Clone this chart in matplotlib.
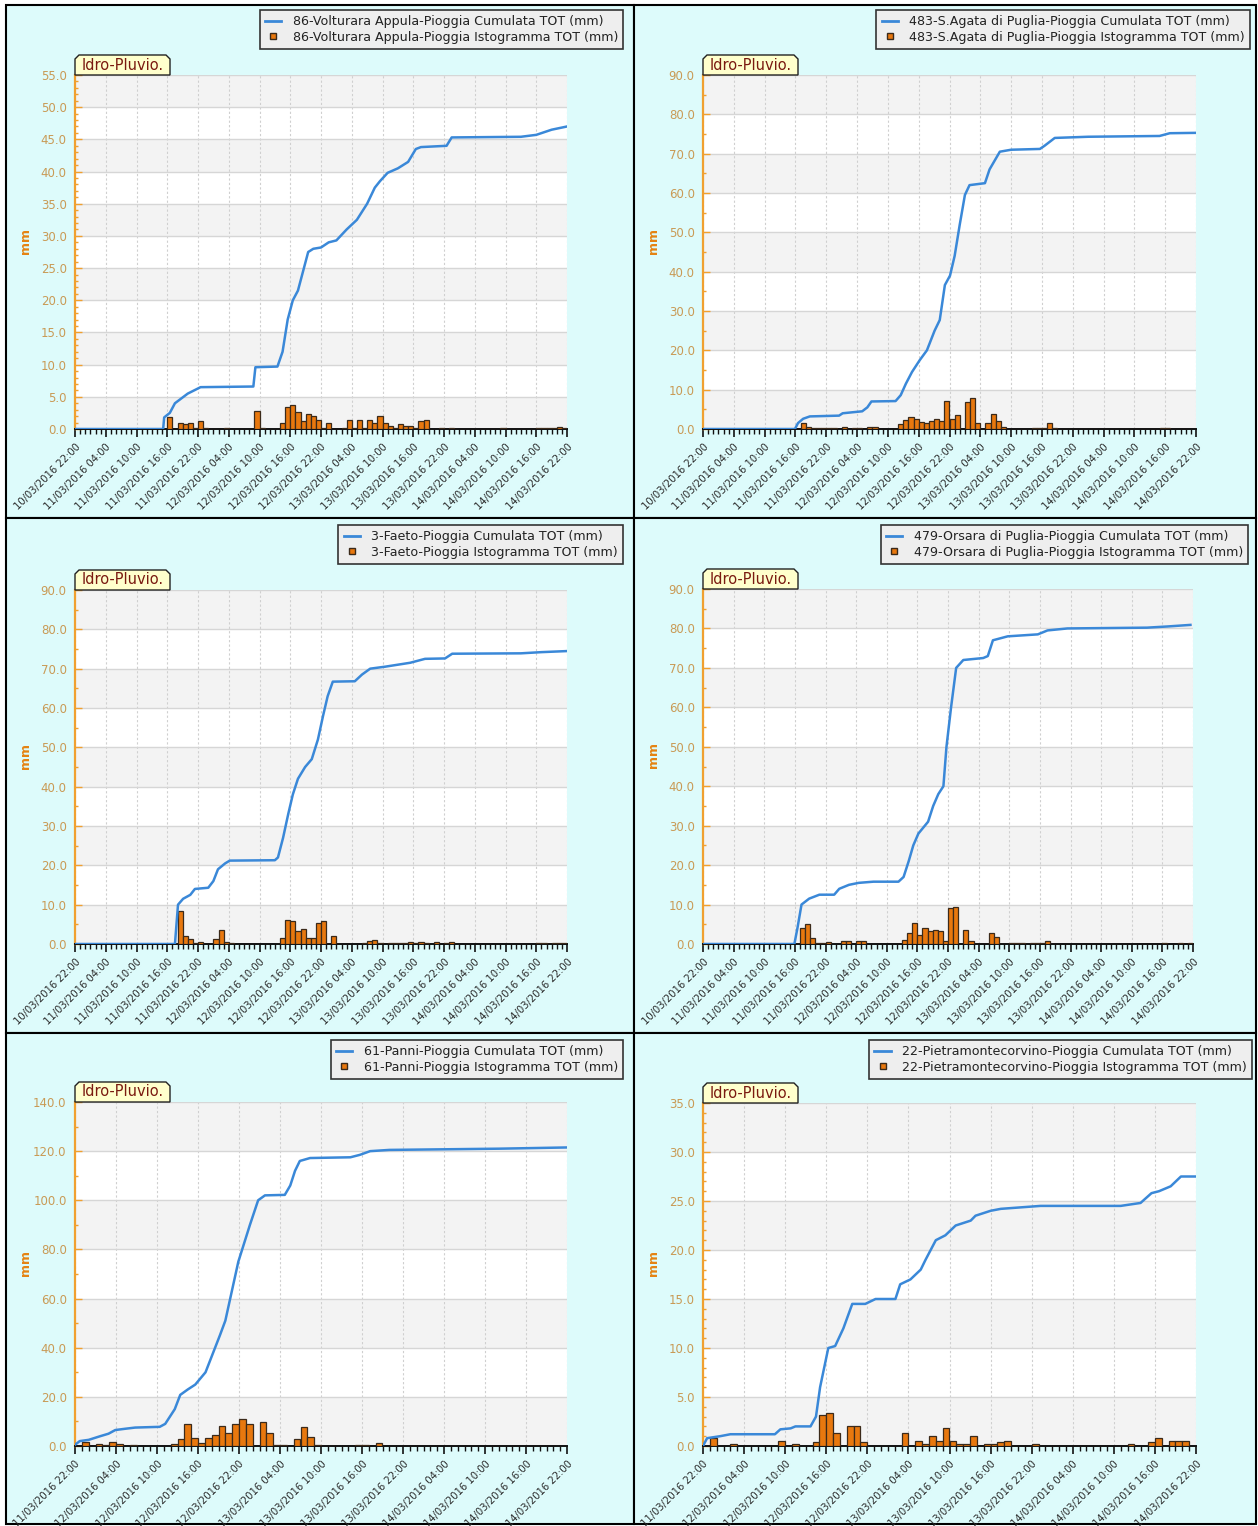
import matplotlib
matplotlib.use("Agg")
import matplotlib.pyplot as plt
from matplotlib.patches import Rectangle, Polygon
from matplotlib.lines import Line2D
from matplotlib.ticker import MultipleLocator, FormatStrFormatter

W, H = 1258, 1526

# x tick labels (every 6 hours)
ticks_4d = ["10/03/2016 22:00", "11/03/2016 04:00", "11/03/2016 10:00", "11/03/2016 16:00",
            "11/03/2016 22:00", "12/03/2016 04:00", "12/03/2016 10:00", "12/03/2016 16:00",
            "12/03/2016 22:00", "13/03/2016 04:00", "13/03/2016 10:00", "13/03/2016 16:00",
            "13/03/2016 22:00", "14/03/2016 04:00", "14/03/2016 10:00", "14/03/2016 16:00",
            "14/03/2016 22:00"]
ticks_3d = ["11/03/2016 22:00", "12/03/2016 04:00", "12/03/2016 10:00", "12/03/2016 16:00",
            "12/03/2016 22:00", "13/03/2016 04:00", "13/03/2016 10:00", "13/03/2016 16:00",
            "13/03/2016 22:00", "14/03/2016 04:00", "14/03/2016 10:00", "14/03/2016 16:00",
            "14/03/2016 22:00"]

# 86-Volturara Appula (hours from 10/03 22:00)
p1_name = "86-Volturara Appula"
p1_bar_h = [18, 20, 21, 22, 23, 24, 25, 29, 35, 36, 40, 41, 42, 43, 44, 45, 46, 47, 48, 49,
            52, 53, 54, 55, 56, 57, 58, 59, 60, 61, 62, 63, 64, 65, 66, 67, 68, 71, 73, 83,
            90, 91, 92, 93, 94, 95]
p1_bar_v = [1.8, 1.0, 0.8, 1.0, 0.1, 1.2, 0.1, 0.1, 2.8, 0.1, 1.0, 3.4, 3.7, 2.6, 1.2, 2.4, 2.0, 1.4, 0.1, 1.0,
            0.2, 1.4, 0.1, 1.4, 0.1, 1.4, 1.0, 2.0, 0.9, 0.5, 0.1, 0.8, 0.4, 0.5, 0.1, 1.2, 1.4, 0.1, 0.2, 0.1,
            0.1, 0.1, 0.1, 0.1, 0.3, 0.1]
p1_cum_h = [0, 17.2, 17.4, 18.5, 19.5, 20.5, 22, 24.5, 34.8, 35.2, 39.5, 40.5, 41.5, 42.5, 43.5, 44.5,
            45.5, 46.5, 48, 49.5, 51, 53, 55, 57, 58.5, 59.5, 61, 63, 65, 66.5, 67.5, 72.5, 73.5,
            87, 90, 93, 96]
p1_cum_v = [0, 0, 1.8, 2.5, 4, 4.6, 5.5, 6.5, 6.6, 9.6, 9.7, 12, 17, 20, 21.5, 24.5,
            27.5, 28, 28.2, 29, 29.3, 31, 32.5, 35, 37.5, 38.5, 39.8, 40.5, 41.5, 43.5, 43.8, 44, 45.3,
            45.4, 45.7, 46.5, 47]

# 483-S.Agata di Puglia
p2_name = "483-S.Agata di Puglia"
p2_bar_h = [19, 20, 21, 22, 23, 24, 25, 27, 29, 30, 32, 33, 37, 38, 39, 40, 41, 42, 43, 44,
            45, 46, 47, 48, 49, 50, 51, 52, 53, 55, 56, 57, 58, 64, 65, 66, 67, 68, 89, 90]
p2_bar_v = [1.4, 0.6, 0.2, 0.2, 0.2, 0.2, 0.2, 0.4, 0.2, 0.2, 0.6, 0.6, 0.1, 1.2, 2.2, 3.0, 2.6, 1.9, 1.5, 2.0,
            2.6, 2.0, 7.0, 2.6, 3.5, 0.1, 6.8, 7.9, 1.5, 1.5, 3.8, 2.1, 0.4, 0.2, 0.2, 0.2, 1.5, 0.2, 0.2, 0.2]
p2_cum_h = [0, 17.9, 18.5, 19.5, 20.8, 26.5, 27.2, 31, 32, 32.8, 37.5, 38.5, 39.5, 40.7, 42.2, 43.6,
            45.1, 46.1, 47.1, 48.1, 49.0, 50.0, 51.0, 51.9, 54.9, 55.8, 57.8, 60, 65.6, 66.5, 68.5,
            75, 88.9, 90.9, 96.5]
p2_cum_v = [0, 0, 1.5, 2.6, 3.2, 3.4, 4.0, 4.5, 5.5, 7.0, 7.1, 8.6, 11.5, 14.5, 17.5, 20,
            25, 27.7, 36.6, 39, 44, 52, 59.5, 62, 62.5, 66, 70.5, 71, 71.2, 72, 74,
            74.3, 74.5, 75.2, 75.3]

# 3-Faeto
p3_name = "3-Faeto"
p3_bar_h = [20, 21, 22, 23, 24, 25, 26, 27, 28, 29, 30, 39, 40, 41, 42, 43, 44, 45, 46, 47,
            48, 49, 50, 51, 56, 57, 58, 59, 60, 61, 62, 63, 64, 65, 66, 67, 68, 70, 72, 73,
            74, 90, 91, 92, 93, 94, 95]
p3_bar_v = [8.3, 2.1, 1.2, 0.2, 0.6, 0.1, 0.1, 1.2, 3.5, 0.6, 0.35, 0.1, 1.5, 6.2, 5.9, 3.2, 3.8, 1.4, 1.4, 5.3,
            5.8, 0.1, 2.1, 0.1, 0.35, 0.85, 1.1, 0.2, 0.1, 0.2, 0.3, 0.3, 0.2, 0.4, 0.3, 0.5, 0.2, 0.4, 0.2, 0.5,
            0.1, 0.2, 0.2, 0.1, 0.3, 0.3, 0.2]
p3_cum_h = [0, 19.5, 20.1, 21.1, 22.5, 23.4, 26, 27, 27.9, 29.3, 30.2, 39, 39.6, 40.6, 41.6, 42.5,
            43.5, 44.9, 46.2, 47.4, 48.4, 49.3, 50.3, 54.6, 56, 57.6, 60.5, 65.4, 68.3, 72.2, 73.6,
            87, 91, 96.5]
p3_cum_v = [0, 0, 10, 11.5, 12.5, 14, 14.3, 16, 19, 20.5, 21.2, 21.3, 22, 27, 33, 38,
            42, 45, 47, 52, 58, 63, 66.7, 66.8, 68.5, 70, 70.5, 71.5, 72.5, 72.6, 73.8,
            73.9, 74.2, 74.5]

# 479-Orsara di Puglia
p4_name = "479-Orsara di Puglia"
p4_bar_h = [18, 19, 20, 21, 22, 23, 24, 27, 28, 30, 31, 38, 39, 40, 41, 42, 43, 44, 45, 46,
            47, 48, 49, 50, 51, 52, 53, 54, 55, 56, 57, 58, 60, 61, 62, 64, 65, 66, 67, 68,
            90, 93, 95]
p4_bar_v = [0.1, 4.1, 5.1, 1.6, 0.25, 0.25, 0.5, 0.8, 0.8, 0.8, 0.8, 0.1, 0.9, 2.8, 5.4, 2.2, 4.1, 3.2, 3.6, 3.2,
            0.8, 9.2, 9.5, 0.1, 3.5, 0.8, 0.1, 0.1, 0.1, 2.9, 1.7, 0.1, 0.2, 0.2, 0.2, 0.2, 0.2, 0.2, 0.85, 0.1,
            0.2, 0.2, 0.2]
p4_cum_h = [0, 17.9, 18.5, 19.3, 20.8, 22.8, 25.7, 26.7, 28.6, 30.5, 33.4, 38.3, 39.3, 40.3, 41.2, 42.2,
            44.1, 45.1, 46.1, 47.1, 47.7, 48.6, 49.6, 51.0, 54.9, 55.8, 56.8, 59.7, 65.6, 67.5, 71.4,
            87, 91, 95.5]
p4_cum_v = [0, 0, 4, 10, 11.5, 12.5, 12.5, 14, 15, 15.5, 15.8, 15.8, 17, 21, 25, 28,
            31, 35, 38, 40, 50, 60, 70, 72, 72.5, 73, 77, 78, 78.5, 79.5, 80,
            80.2, 80.5, 80.9]

# 61-Panni (hours from 11/03 22:00)
p5_name = "61-Panni"
p5_bar_h = [1, 3, 4, 5, 6, 8, 14, 15, 16, 17, 18, 19, 20, 21, 22, 23, 24, 25, 27, 28,
            29, 30, 32, 33, 34, 35, 37, 41, 42, 44]
p5_bar_v = [1.8, 0.95, 0.4, 1.8, 0.95, 0.4, 0.95, 2.7, 8.8, 3.1, 1.4, 3.4, 4.3, 8.1, 5.2, 8.8, 11.1, 8.8, 9.8, 5.2,
            0.4, 0.3, 3.0, 7.7, 3.7, 0.3, 0.2, 0.4, 0.4, 1.2]
p5_cum_h = [0, 0.7, 2, 3.7, 4.9, 5.9, 7.3, 8.8, 12.4, 13.2, 14.6, 15.4, 16.5, 17.6, 19.1, 19.8,
            21.2, 22.0, 23.9, 25.6, 26.8, 27.8, 30.7, 31.5, 32.2, 32.9, 34.4, 40.3, 41.7, 43.2,
            46, 62, 72]
p5_cum_v = [0.5, 2, 2.5, 4, 5, 6.5, 7, 7.5, 7.8, 9, 15, 20.8, 23, 25, 30, 35,
            45, 51, 75, 90, 100, 102, 102.2, 106, 112, 116, 117.2, 117.5, 118.5, 120,
            120.5, 121, 121.5]

# 22-Pietramontecorvino
p6_name = "22-Pietramontecorvino"
p6_bar_h = [1, 4, 11, 13, 16, 17, 18, 19, 21, 22, 23, 29, 31, 32, 33, 34, 35, 36, 37, 38,
            39, 41, 42, 43, 44, 48, 62, 65, 66, 68, 69, 70]
p6_bar_v = [0.8, 0.2, 0.55, 0.2, 0.45, 3.2, 3.4, 1.3, 2.0, 2.0, 0.45, 1.3, 0.55, 0.2, 1.0, 0.55, 1.8, 0.55, 0.2, 0.2,
            1.0, 0.2, 0.2, 0.45, 0.55, 0.2, 0.2, 0.45, 0.8, 0.55, 0.55, 0.55]
p6_cum_h = [0, 0.6, 2.5, 4, 10.5, 11.3, 12.8, 13.5, 15.7, 16.5, 17.1, 18.3, 19.3, 20.5, 21.8, 23.7,
            25.2, 28.1, 28.8, 30.3, 31.8, 32.5, 34, 35.4, 36.9, 39.1, 39.8, 42, 43.5, 49.3,
            61, 63.9, 65.5, 66.6, 68.3, 69.8, 72.5]
p6_cum_v = [0, 0.8, 1.0, 1.2, 1.2, 1.7, 1.8, 2.0, 2.0, 3, 6, 10, 10.2, 12, 14.5, 14.5,
            15, 15, 16.5, 17, 18, 19, 21, 21.5, 22.5, 23, 23.5, 24, 24.2, 24.5,
            24.5, 24.8, 25.8, 26, 26.5, 27.5, 27.5]

PANEL_BG = "#ddfbfb"
BAND = "#f3f3f3"
ORANGE = "#f0a030"
BAR = "#e8780e"
BLUE = "#3a88d8"


def fx(x):
    return x / W


def fy(y):
    return 1 - y / H


def draw_panel(fig, box, rect, leg, name, bar_h, bar_v, cum_h, cum_v,
               ymax, ystep, yminor, labels):
    # panel frame (behind the axes)
    bx0, by0, bx1, by1 = box
    fig.patches.append(Rectangle((fx(bx0), fy(by1)), (bx1 - bx0) / W, (by1 - by0) / H,
                                 transform=fig.transFigure, facecolor=PANEL_BG,
                                 edgecolor="black", lw=1.5, zorder=-5))
    l, t, r, b = rect
    ax = fig.add_axes([fx(l), fy(b), (r - l) / W, (b - t) / H])
    ax.set_facecolor("white")
    span = 6 * (len(labels) - 1)
    ax.set_xlim(0, span)
    ax.set_ylim(0, ymax)

    nb = int(round(ymax / ystep))
    for i in range(0, nb, 2):
        ax.axhspan(i * ystep, (i + 1) * ystep, color=BAND, lw=0, zorder=0)

    ax.bar(bar_h, bar_v, width=1, align="edge", color=BAR, edgecolor="#3b2a1a",
           lw=0.9, zorder=3)
    ax.plot(cum_h, cum_v, color=BLUE, lw=1.8, zorder=4)

    ax.set_axisbelow(True)
    ax.yaxis.grid(True, color="#d6d6d6", lw=1.0)
    ax.xaxis.grid(True, color="#cfcfcf", lw=0.8, ls=(0, (2, 2)))

    for s in ("top", "right"):
        ax.spines[s].set_visible(False)
    ax.spines["left"].set_color(ORANGE)
    ax.spines["left"].set_linewidth(1.6)
    ax.spines["bottom"].set_color("#111111")
    ax.spines["bottom"].set_linewidth(1.4)

    ax.set_xticks(range(0, span + 1, 6))
    ax.set_xticklabels(labels, rotation=45, ha="right", va="top",
                       rotation_mode="anchor", fontsize=7.2, color="#2a2a2a")
    ax.xaxis.set_minor_locator(MultipleLocator(1))
    ax.tick_params(axis="x", which="major", direction="out", length=6, width=1.2,
                   color="#111111", pad=3)
    ax.tick_params(axis="x", which="minor", direction="out", length=3.5, width=1.0,
                   color="#111111")

    ax.yaxis.set_major_locator(MultipleLocator(ystep))
    ax.yaxis.set_minor_locator(MultipleLocator(yminor))
    ax.yaxis.set_major_formatter(FormatStrFormatter("%.1f"))
    ax.tick_params(axis="y", which="major", direction="in", length=5, width=1,
                   color=ORANGE, labelcolor="#c99a55", labelsize=8.5, pad=6)
    ax.tick_params(axis="y", which="minor", direction="in", length=2.5, width=1,
                   color=ORANGE)

    fig.text(fx(l - 49), fy((t + b) / 2 - 11), "mm", rotation=90, color="#e58312",
             fontsize=9, fontweight="bold", ha="center", va="center")

    # "Idro-Pluvio." tag
    c = 4
    pts = [(l, t), (l, t - 20 + c), (l + c, t - 20), (l + 95 - c, t - 20),
           (l + 95, t - 20 + c), (l + 95, t)]
    fig.patches.append(Polygon([(fx(x), fy(y)) for x, y in pts], closed=True,
                               transform=fig.transFigure, facecolor="#ffffcc",
                               edgecolor="#222222", lw=1.0, zorder=5))
    fig.text(fx(l + 47.5), fy(t - 10), "Idro-Pluvio.", color="#7a1a10",
             fontsize=10.5, ha="center", va="center", zorder=6)

    handles = [Line2D([], [], color=BLUE, lw=2),
               Line2D([], [], marker="s", ls="", markerfacecolor=BAR,
                      markeredgecolor="#3b2a1a", markersize=5)]
    texts = [name + "-Pioggia Cumulata TOT (mm)", name + "-Pioggia Istogramma TOT (mm)"]
    lg = ax.legend(handles, texts, loc="upper right",
                   bbox_to_anchor=(fx(leg[0]), fy(leg[1])), bbox_transform=fig.transFigure,
                   frameon=True, fancybox=False, framealpha=1, facecolor="#eeeeee",
                   edgecolor="#333333", fontsize=9.1, handlelength=1.3, borderpad=0.4,
                   labelspacing=0.22, handletextpad=0.9, borderaxespad=0)
    lg.get_frame().set_linewidth(1.2)
    for tx in lg.get_texts():
        tx.set_color("#222222")
    return ax


fig = plt.figure(figsize=(W / 100, H / 100), dpi=100)
fig.patch.set_facecolor("white")

draw_panel(fig, (6, 5, 634, 518), (75, 75, 567, 429), (623, 10), p1_name,
           p1_bar_h, p1_bar_v, p1_cum_h, p1_cum_v, 55, 5, 1, ticks_4d)
draw_panel(fig, (634, 5, 1256, 518), (703, 75, 1196, 429), (1250, 10), p2_name,
           p2_bar_h, p2_bar_v, p2_cum_h, p2_cum_v, 90, 10, 5, ticks_4d)
draw_panel(fig, (6, 518, 634, 1033), (75, 590, 567, 944), (623, 525), p3_name,
           p3_bar_h, p3_bar_v, p3_cum_h, p3_cum_v, 90, 10, 5, ticks_4d)
draw_panel(fig, (634, 518, 1256, 1033), (703, 589, 1193, 944), (1248, 525), p4_name,
           p4_bar_h, p4_bar_v, p4_cum_h, p4_cum_v, 90, 10, 5, ticks_4d)
draw_panel(fig, (6, 1033, 634, 1524), (75, 1102, 567, 1446), (623, 1040), p5_name,
           p5_bar_h, p5_bar_v, p5_cum_h, p5_cum_v, 140, 20, 10, ticks_3d)
draw_panel(fig, (634, 1033, 1256, 1524), (703, 1103, 1196, 1446), (1252, 1040), p6_name,
           p6_bar_h, p6_bar_v, p6_cum_h, p6_cum_v, 35, 5, 1, ticks_3d)

fig.savefig("out.png", dpi=100)
